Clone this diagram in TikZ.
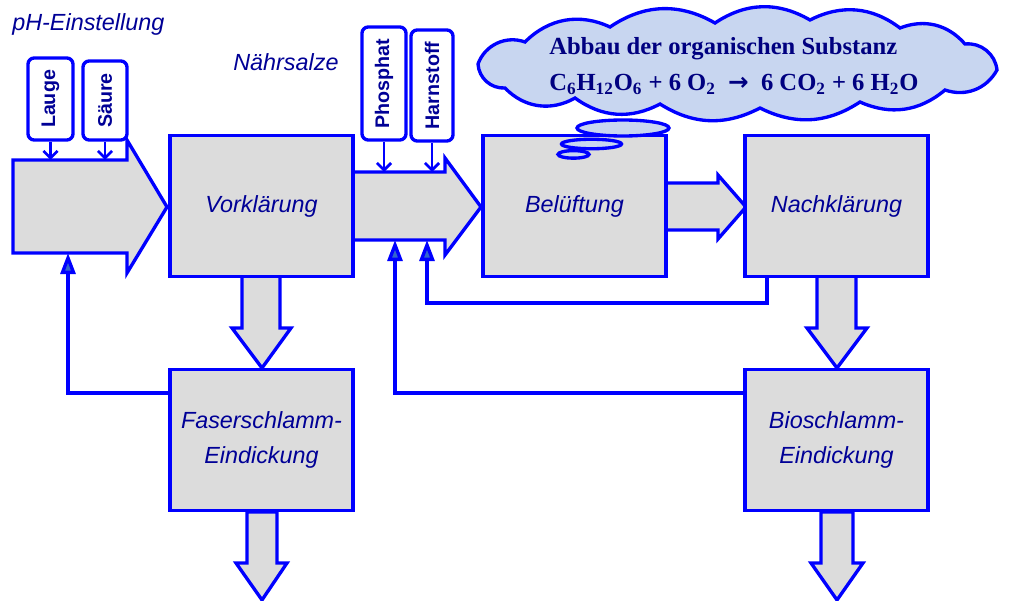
\documentclass[tikz,border=0pt]{standalone}
\usepackage{fontspec}
\setmainfont{Liberation Sans}
\newfontfamily\timesb{Liberation Serif}
\newfontfamily\arrfont{DejaVu Sans}
\usetikzlibrary{arrows.meta}
\definecolor{lineblue}{RGB}{0,0,255}
\definecolor{boxgray}{RGB}{220,220,220}
\definecolor{txtnavy}{RGB}{0,0,150}
\definecolor{cloudtext}{RGB}{0,0,128}
\definecolor{tipblue}{RGB}{51,102,204}
\definecolor{cloudblue}{RGB}{200,214,240}
\begin{document}
\begin{tikzpicture}[x=0.02cm,y=-0.02cm,
  proc/.style={draw=lineblue,line width=1.9pt,fill=boxgray,minimum width=3.66cm,minimum height=2.82cm,align=center,text=txtnavy,font=\fontsize{13.3}{20.4}\selectfont\itshape,inner sep=0pt},
  blockarrow/.style={draw=lineblue,line width=1.9pt,fill=boxgray,line join=miter},
  feed/.style={rounded corners=3.5pt,draw=lineblue,line width=1.9pt,fill=white,inner sep=0pt,text=txtnavy,font=\fontsize{11.2}{13}\selectfont\bfseries},
  inarrow/.style={draw=lineblue,line width=1.6pt,-{Straight Barb[length=4pt,width=8pt]}},
  back/.style={draw=lineblue,line width=1.9pt,-{Triangle[length=12pt,width=8.5pt,fill=tipblue]}},
  lbl/.style={text=txtnavy,font=\fontsize{13.3}{16}\selectfont\itshape,anchor=base west,inner sep=0pt},
  cloudtxt/.style={text=cloudtext,font=\timesb\bfseries\fontsize{14}{16}\selectfont,anchor=base west,inner sep=0pt},
  puff/.style={draw=lineblue,line width=1.9pt,fill=cloudblue}
]
\useasboundingbox (0,0) rectangle (1011,601);

% labels
\node[lbl] (ph) at (12,31) {pH-Einstellung};
\node[lbl] (naehr) at (233,71) {Nährsalze};

% block arrows
\draw[blockarrow] (13,160) -- (127,160) -- (127,140) -- (167,207) -- (127,273) -- (127,253) -- (13,253) -- cycle;
\draw[blockarrow] (353,172) -- (445,172) -- (445,158) -- (481,207) -- (445,255) -- (445,240) -- (353,240) -- cycle;
\draw[blockarrow] (666,183) -- (718,183) -- (718,175) -- (746,207) -- (718,239) -- (718,230) -- (666,230) -- cycle;
\draw[blockarrow] (242,276) -- (242,328) -- (232,328) -- (262,368) -- (291,328) -- (280,328) -- (280,276) -- cycle;
\draw[blockarrow] (247,512) -- (247,563) -- (236,563) -- (262,600) -- (287,563) -- (277,563) -- (277,512) -- cycle;
\draw[blockarrow] (817,276) -- (817,328) -- (807,328) -- (837,368) -- (867,328) -- (856,328) -- (856,276) -- cycle;
\draw[blockarrow] (821,512) -- (821,563) -- (811,563) -- (837,600) -- (863,563) -- (853,563) -- (853,512) -- cycle;

% process boxes
\node[proc] (vork) at (261.5,206) {Vorklärung};
\node[proc] (bel) at (574.5,206) {Belüftung};
\node[proc] (nach) at (836.5,206) {Nachklärung};
\node[proc] (faser) at (261.5,440) {Faserschlamm-\\Eindickung};
\node[proc] (bio) at (836.5,440) {Bioschlamm-\\Eindickung};

% input boxes
\node[feed,minimum width=0.9cm,minimum height=1.64cm] (lauge) at (50.5,99) {\rotatebox{90}{Lauge}};
\node[feed,minimum width=0.88cm,minimum height=1.58cm] (saeure) at (105,100.5) {\rotatebox{90}{Säure}};
\node[feed,minimum width=0.88cm,minimum height=2.26cm] (phos) at (384,83.5) {\rotatebox{90}{Phosphat}};
\node[feed,minimum width=0.84cm,minimum height=2.22cm] (harn) at (432,85.5) {\rotatebox{90}{Harnstoff}};

\coordinate (a1top) at (0,160);
\coordinate (a2top) at (0,172);
\draw[inarrow] (lauge.south) -- (lauge.south |- a1top);
\draw[inarrow] (saeure.south) -- (saeure.south |- a1top);
\draw[inarrow] (phos.south) -- (phos.south |- a2top);
\draw[inarrow] (harn.south) -- (harn.south |- a2top);

% feedback lines
\coordinate (fb1s) at (170,393);
\coordinate (fb1e) at (68,253);
\coordinate (fb2s) at (767,276);
\coordinate (fb2e) at (427,240);
\coordinate (fb3s) at (745,393);
\coordinate (fb3e) at (395,240);
\draw[back] (fb1s) -| (fb1e);
\draw[back] (fb2s) -- ++(0,27) -| (fb2e);
\draw[back] (fb3s) -| (fb3e);

% cloud
\draw[puff] (525,42) to[bend left=35] (610,27) to[bend left=32] (715,23)
  to[bend left=32] (810,20) to[bend left=32] (900,28) to[bend left=35] (965,44)
  to[bend left=45] (997,70) to[bend left=40] (945,90) to[bend left=32] (860,102)
  to[bend left=30] (760,108) to[bend left=30] (660,104) to[bend left=32] (575,98)
  to[bend left=38] (505,88) to[bend left=45] (478,64) to[bend left=45] cycle;
\draw[puff] (623,128) ellipse [x radius=0.92cm,y radius=0.16cm];
\draw[puff] (591.5,144) ellipse [x radius=0.6cm,y radius=0.095cm];
\draw[puff] (573.5,154.4) ellipse [x radius=0.31cm,y radius=0.075cm];
\node[cloudtxt] (c1) at (549,54.5) {Abbau der organischen Substanz};
\node[cloudtxt] (c2) at (549,91) {C\textsubscript{6}H\textsubscript{12}O\textsubscript{6} + 6 O\textsubscript{2} \ {\arrfont\bfseries →} \ 6 CO\textsubscript{2} + 6 H\textsubscript{2}O};
\end{tikzpicture}
\end{document}
